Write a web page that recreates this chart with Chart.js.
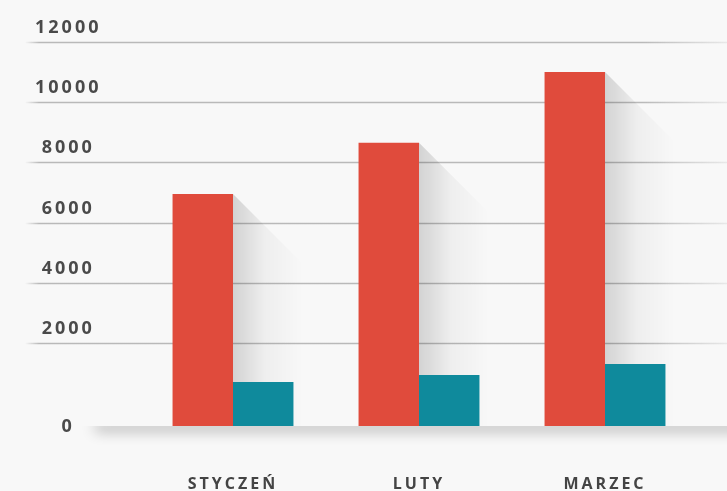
<!DOCTYPE html>
<html>
<head>
<meta charset="utf-8">
<title>Styczeń - Marzec</title>
<script src="https://cdn.jsdelivr.net/npm/chart.js@4"></script>
<style>
  html, body { margin: 0; padding: 0; background: #f8f8f8; }
  #wrap { width: 727px; height: 491px; position: relative; }
</style>
</head>
<body>
<div id="wrap"><canvas id="chart"></canvas></div>
<script>
(function () {
  "use strict";

  var MONTHS = ["STYCZEŃ", "LUTY", "MARZEC"];
  var RED_VALUES = [6950, 8650, 11000];
  var TEAL_VALUES = [700, 930, 1300];
  var Y_TICKS = [0, 2000, 4000, 6000, 8000, 10000, 12000];

  // the picture puts its zero line lower than an even step, so the
  // scale runs below zero and the bars start from that lower line
  var Y_MIN = -1260;
  var BAR_BASE = -760;

  var RED = "#e04b3c";
  var TEAL = "#0f8a9c";
  var BG = "#f8f8f8";

  function tickPos(v) {
    return v === 0 ? Y_MIN : v;
  }

  var decorPlugin = {
    id: "decor",
    beforeDraw: function (chart) {
      chart.ctx.letterSpacing = "3px";
    },
    beforeDatasetsDraw: function (chart) {
      var ctx = chart.ctx;
      var y = chart.scales.y;
      var W = chart.width;
      var base = y.getPixelForValue(BAR_BASE);

      ctx.save();
      ctx.letterSpacing = "0px";

      // soft shadow under the floor line (only below it)
      ctx.save();
      ctx.beginPath();
      ctx.rect(0, base, W, 60);
      ctx.clip();
      ctx.shadowColor = "rgba(0,0,0,0.30)";
      ctx.shadowBlur = 14;
      ctx.shadowOffsetY = 5;
      ctx.fillStyle = BG;
      ctx.fillRect(95, base - 8, W + 40, 8);
      ctx.restore();

      // grid lines, faded at both ends
      var g = ctx.createLinearGradient(25, 0, W, 0);
      g.addColorStop(0, "rgba(185,185,185,0)");
      g.addColorStop(0.02, "rgba(185,185,185,1)");
      g.addColorStop(0.88, "rgba(185,185,185,1)");
      g.addColorStop(1, "rgba(185,185,185,0.25)");
      ctx.strokeStyle = g;
      ctx.lineWidth = 1.5;
      Y_TICKS.forEach(function (v) {
        if (v === 0) return;
        var py = Math.round(y.getPixelForValue(v)) + 0.5;
        ctx.beginPath();
        ctx.moveTo(25, py);
        ctx.lineTo(W, py);
        ctx.stroke();
      });

      // long diagonal shadow behind each red bar
      var meta = chart.getDatasetMeta(0);
      meta.data.forEach(function (bar) {
        var p = bar.getProps(["x", "y", "width", "base"], true);
        var right = p.x + p.width / 2;
        var L = 70;
        var sg = ctx.createLinearGradient(right, 0, right + L, 0);
        sg.addColorStop(0, "rgba(0,0,0,0.15)");
        sg.addColorStop(0.45, "rgba(0,0,0,0.04)");
        sg.addColorStop(1, "rgba(0,0,0,0)");
        ctx.fillStyle = sg;
        ctx.beginPath();
        ctx.moveTo(right, p.y);
        ctx.lineTo(right + L, p.y + L);
        ctx.lineTo(right + L, p.base);
        ctx.lineTo(right, p.base);
        ctx.closePath();
        ctx.fill();
      });
      ctx.restore();
    }
  };

  function build() {
    var canvas = document.getElementById("chart");
    new Chart(canvas, {
      type: "bar",
      data: {
        labels: MONTHS,
        datasets: [
          {
            label: "A",
            data: RED_VALUES,
            backgroundColor: RED,
            base: BAR_BASE,
            categoryPercentage: 0.65,
            barPercentage: 1
          },
          {
            label: "B",
            data: TEAL_VALUES,
            backgroundColor: TEAL,
            base: BAR_BASE,
            categoryPercentage: 0.65,
            barPercentage: 1
          }
        ]
      },
      options: {
        responsive: true,
        maintainAspectRatio: false,
        animation: false,
        layout: { padding: { left: 30, right: 29, top: 42, bottom: 0 } },
        plugins: { legend: { display: false }, tooltip: { enabled: false } },
        scales: {
          x: {
            // tick length is used only as spacing, tick marks are hidden
            grid: { display: false, drawTicks: true, tickLength: 34 },
            border: { display: false },
            ticks: {
              color: "#444",
              font: { family: "Open Sans", weight: "700", size: 16 },
              padding: 0
            },
            afterFit: function (s) { s.height = 50; }
          },
          y: {
            min: Y_MIN,
            max: 12000,
            grid: { display: false, drawTicks: true, tickLength: 46 },
            border: { display: false },
            afterBuildTicks: function (s) {
              s.ticks = Y_TICKS.map(function (v) { return { value: tickPos(v) }; });
            },
            afterFit: function (s) { s.width = 110; },
            ticks: {
              color: "#4a4a4a",
              font: { family: "Open Sans", weight: "700", size: 18 },
              crossAlign: "center",
              padding: 0,
              labelOffset: -14,
              callback: function (value) {
                return value === Y_MIN ? "0" : String(value);
              }
            }
          }
        }
      },
      plugins: [decorPlugin]
    });
  }

  if (document.readyState === "loading") {
    document.addEventListener("DOMContentLoaded", build);
  } else {
    build();
  }
})();
</script>
</body>
</html>
